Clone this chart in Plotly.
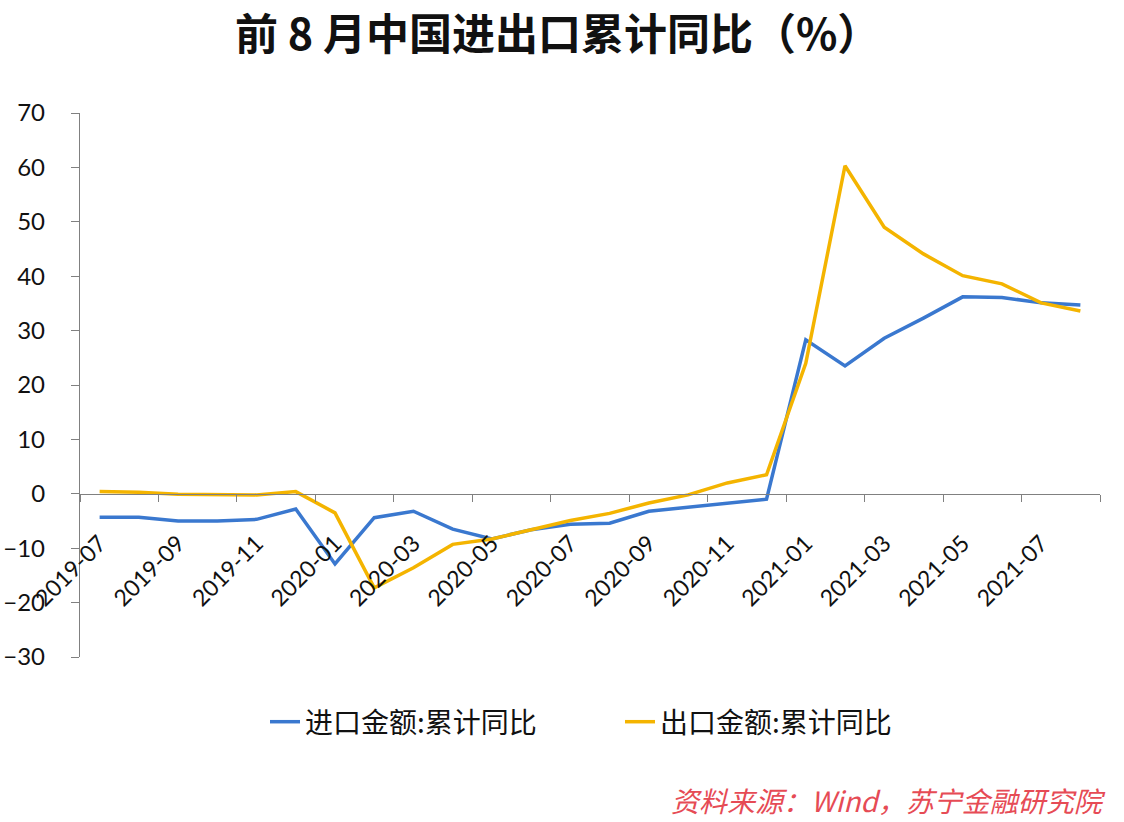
import plotly.graph_objects as go

months = ["2019-07", "2019-08", "2019-09", "2019-10", "2019-11", "2019-12",
          "2020-01", "2020-02", "2020-03", "2020-04", "2020-05", "2020-06",
          "2020-07", "2020-08", "2020-09", "2020-10", "2020-11", "2020-12",
          "2021-01", "2021-02", "2021-03", "2021-04", "2021-05", "2021-06",
          "2021-07", "2021-08"]

imports_yoy = [-4.3, -4.3, -5.0, -5.0, -4.7, -2.8,
               -12.9, -4.4, -3.2, -6.5, -8.3, -6.6,
               -5.6, -5.4, -3.2, -2.5, -1.8, -1.0,
               28.3, 23.5, 28.6, 32.3, 36.2, 36.1,
               35.1, 34.7]

exports_yoy = [0.4, 0.3, -0.1, -0.2, -0.2, 0.4,
               -3.5, -17.3, -13.6, -9.3, -8.3, -6.6,
               -4.9, -3.6, -1.7, -0.2, 2.0, 3.5,
               24.0, 60.3, 49.0, 44.1, 40.1, 38.6,
               35.1, 33.6]

series_names = ["进口金额:累计同比", "出口金额:累计同比"]
title_text = "前 8 月中国进出口累计同比（%）"
source_text = "资料来源：Wind，苏宁金融研究院"

CJK = "Noto Sans CJK SC"
NUM = "Lato, Noto Sans, sans-serif"

fig = go.Figure()
fig.add_trace(go.Scatter(x=months, y=imports_yoy, mode="lines", name=series_names[0],
                         line=dict(color="#3a78cf", width=3.5)))
fig.add_trace(go.Scatter(x=months, y=exports_yoy, mode="lines", name=series_names[1],
                         line=dict(color="#f4b400", width=3.5)))

fig.update_layout(
    width=1124, height=822,
    margin=dict(l=80, r=24, t=113, b=165, autoexpand=False),
    paper_bgcolor="white", plot_bgcolor="white",
    xaxis=dict(type="category", range=[-0.5, 25.5], anchor="free", position=0.3,
               tickmode="linear", tick0=0, dtick=2, tickson="boundaries",
               ticks="outside", ticklen=7, tickcolor="#808080",
               showline=True, linecolor="#808080", linewidth=1.3,
               showgrid=False, zeroline=False, tickangle=-45,
               ticklabelstandoff=26, automargin=False,
               tickfont=dict(family=NUM, size=23, color="#111111")),
    yaxis=dict(range=[-30, 70], dtick=10, tick0=0, ticks="outside", ticklen=8,
               tickcolor="#808080", showline=True, linecolor="#808080", linewidth=1.3,
               showgrid=False, zeroline=False, ticklabelstandoff=21, automargin=False,
               tickfont=dict(family=NUM, size=24, color="#111111")),
    legend=dict(orientation="h", x=(265 - 80) / 1020, xanchor="left",
                y=(657 - 722) / 544, yanchor="middle",
                entrywidth=310, entrywidthmode="pixels",
                font=dict(family=CJK, size=28, color="#111111"),
                bgcolor="rgba(0,0,0,0)"),
    showlegend=True,
)

fig.add_annotation(text=title_text, xref="paper", yref="paper",
                   x=(557 - 80) / 1020, y=(657 - 31) / 544,
                   xanchor="center", yanchor="middle", showarrow=False,
                   font=dict(family=CJK, size=43, color="#111111", weight="bold"))

fig.add_annotation(text=source_text, xref="paper", yref="paper",
                   x=(1108 - 80) / 1020, y=(657 - 800) / 544,
                   xanchor="right", yanchor="middle", showarrow=False,
                   font=dict(family=CJK, size=28, color="#e64b55", style="italic"))

fig.write_html("out.html")
